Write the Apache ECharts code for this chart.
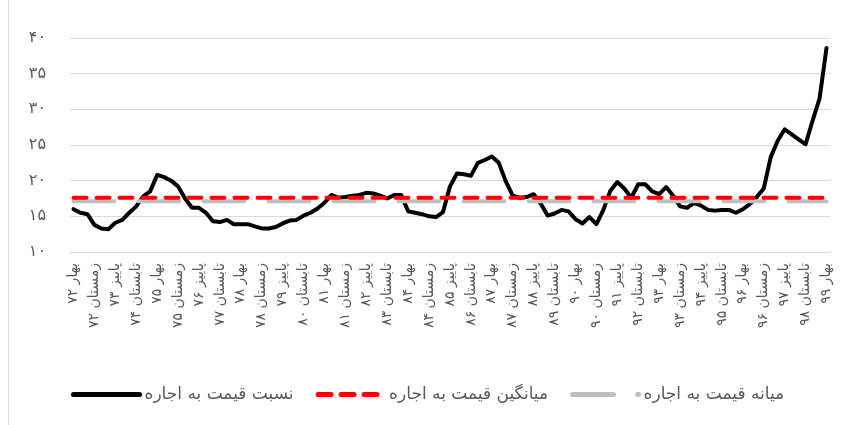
<!DOCTYPE html>
<html>
<head>
<meta charset="utf-8">
<script src="https://cdn.jsdelivr.net/npm/echarts@6/dist/echarts.min.js"></script>
<style>
  html, body { margin: 0; padding: 0; background: #fff; }
  #ratio-chart { width: 850px; height: 425px; position: relative; }
  .frame { position: absolute; left: 8px; top: 0; width: 1px; height: 425px; background: #d9d9d9; }
</style>
</head>
<body>
<div class="frame"></div>
<div id="ratio-chart"></div>
<script>
// seasons and years for the category axis
const seasons = ['بهار', 'تابستان', 'پاییز', 'زمستان']
const years = [72, 73, 74, 75, 76, 77, 78, 79, 80, 81, 82, 83, 84, 85, 86, 87, 88, 89, 90, 91, 92, 93, 94, 95, 96, 97, 98, 99]
const yTicks = [10, 15, 20, 25, 30, 35, 40]

// price to rent ratio (quarterly)
const ratioValues = [
  16.0, 15.5, 15.3, 13.8, 13.3, 13.2, 14.1, 14.5, 15.5, 16.4,
  17.8, 18.5, 20.8, 20.5, 20.0, 19.2, 17.5, 16.2, 16.2, 15.5,
  14.3, 14.2, 14.5, 13.9, 13.9, 13.9, 13.6, 13.3, 13.3, 13.5,
  14.0, 14.4, 14.5, 15.1, 15.5, 16.1, 16.9, 18.0, 17.6, 17.7,
  17.9, 18.0, 18.3, 18.2, 17.9, 17.5, 18.0, 18.0, 15.7, 15.5,
  15.3, 15.0, 14.9, 15.6, 19.2, 21.0, 20.9, 20.7, 22.5, 22.9,
  23.4, 22.5, 19.9, 17.9, 17.6, 17.7, 18.1, 16.8, 15.1, 15.4,
  15.9, 15.7, 14.6, 14.0, 14.9, 13.9, 15.9, 18.6, 19.8, 18.9,
  17.6, 19.5, 19.5, 18.5, 18.1, 19.1, 17.9, 16.4, 16.2, 16.9,
  16.5, 15.9, 15.8, 15.9, 15.9, 15.5, 16.0, 16.7, 17.7, 18.9,
  23.3, 25.6, 27.2, 26.5, 25.8, 25.1, 28.4, 31.5, 38.6
]
const meanRatio = 17.6
const medianRatio = 17.1

const toFa = s => String(s).replace(/[0-9]/g, d => '۰۱۲۳۴۵۶۷۸۹'[d])

const categories = []
for (const y of years) {
  for (const s of seasons) {
    if (categories.length < ratioValues.length) categories.push(s + ' ' + toFa(y))
  }
}

const font = "'DejaVu Sans', sans-serif"
const chart = echarts.init(document.getElementById('ratio-chart'))
chart.setOption({
  animation: false,
  textStyle: { fontFamily: font },
  grid: {
    left: 70,
    right: 20,
    top: 38,
    bottom: 173
  },
  legend: {
    bottom: 17,
    left: 66,
    itemWidth: 66,
    itemHeight: 8,
    itemGap: 22,
    itemStyle: { opacity: 0 },
    lineStyle: { width: 5 },
    textStyle: { color: '#595959', fontSize: 17, fontFamily: font },
    data: ['نسبت قیمت به اجاره', 'میانگین قیمت به اجاره', 'میانه قیمت به اجاره']
  },
  xAxis: {
    type: 'category',
    data: categories,
    boundaryGap: true,
    axisLine: { lineStyle: { color: '#d9d9d9' } },
    axisTick: { show: false },
    axisLabel: {
      interval: 2,
      rotate: 90,
      margin: 11,
      color: '#595959',
      fontSize: 14,
      fontFamily: font
    }
  },
  yAxis: {
    type: 'value',
    min: yTicks[0],
    max: yTicks[yTicks.length - 1],
    interval: 5,
    axisLine: { show: false },
    axisTick: { show: false },
    splitLine: { lineStyle: { color: '#d9d9d9', width: 1 } },
    axisLabel: {
      margin: 24,
      color: '#595959',
      fontSize: 16,
      fontFamily: font,
      formatter: v => toFa(v)
    }
  },
  series: [
    {
      name: 'نسبت قیمت به اجاره',
      type: 'line',
      data: ratioValues,
      showSymbol: false,
      symbol: 'none',
      z: 2,
      lineStyle: { color: '#000', width: 4, cap: 'round', join: 'round' },
      itemStyle: { color: '#000' }
    },
    {
      name: 'میانه قیمت به اجاره',
      type: 'line',
      data: categories.map(() => medianRatio),
      symbol: 'none',
      z: 3,
      lineStyle: { color: '#bfbfbf', width: 4, type: [41, 24], cap: 'round' },
      itemStyle: { color: '#bfbfbf' }
    },
    {
      name: 'میانگین قیمت به اجاره',
      type: 'line',
      data: categories.map(() => meanRatio),
      symbol: 'none',
      z: 4,
      lineStyle: { color: '#ff0000', width: 4, type: [13, 10], cap: 'round' },
      itemStyle: { color: '#ff0000' }
    }
  ]
})
window.addEventListener('resize', () => { chart.resize() })
</script>
</body>
</html>
